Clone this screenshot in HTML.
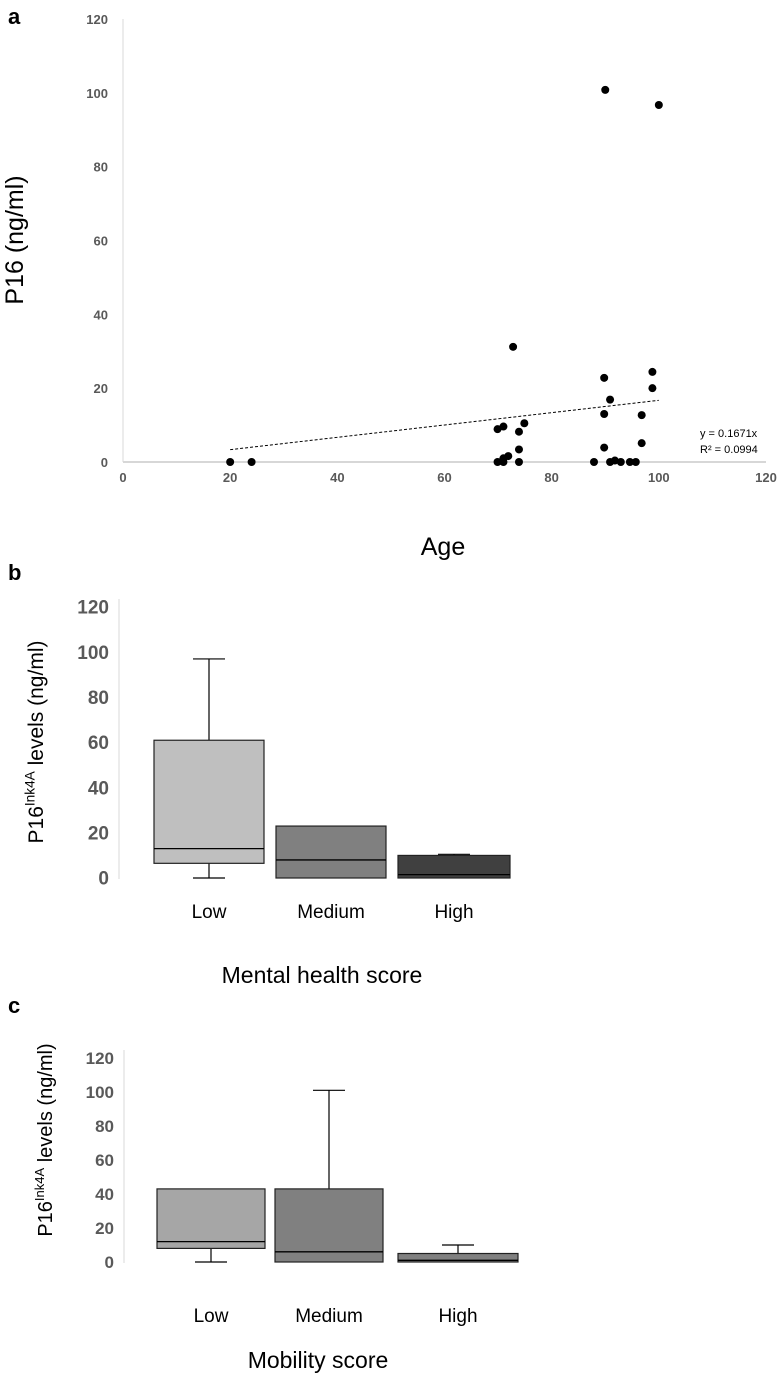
<!DOCTYPE html>
<html><head><meta charset="utf-8"><style>
html,body{margin:0;padding:0;background:#fff;}
svg{display:block;font-family:"Liberation Sans",sans-serif;}
</style></head><body>
<svg id="s" width="780" height="1376" viewBox="0 0 780 1376" xmlns="http://www.w3.org/2000/svg"></svg>
<script>
// Panel a data
const ageValues=[20,24,72.8,69.9,71,73.9,74.9,73.9,71.9,71,69.9,71,73.9,89.8,90.9,89.8,89.8,87.9,90.9,91.8,92.9,94.6,95.7,98.8,98.8,96.8,96.8,90,100];
const p16Values=[0,0,31.2,8.9,9.6,8.2,10.5,3.4,1.6,1.0,0,0,0,22.8,16.9,13,3.9,0,0,0.4,0,0,0,24.4,20.0,12.7,5.1,100.8,96.7];
const aTicks=[0,20,40,60,80,100,120];
const trendSlope=0.1671;
const trendRange=[20,100];
// Panel b data
const bCats=["Low","Medium","High"];
const bMin=[0,0,0];
const bQ1=[6.5,0,0];
const bMed=[13,8,1.5];
const bQ3=[61,23,10];
const bMax=[97,23,10.5];
// Panel c data
const cCats=["Low","Medium","High"];
const cMin=[0,0,0];
const cQ1=[8,0,0];
const cMed=[12,6,1];
const cQ3=[43,43,5];
const cMax=[43,101,10];
const boxTicks=[0,20,40,60,80,100,120];

const NS="http://www.w3.org/2000/svg";
const s=document.getElementById('s');
function el(t,a,p){const e=document.createElementNS(NS,t);for(const k in a)e.setAttribute(k,a[k]);(p||s).appendChild(e);return e;}
function txt(x,y,str,a){const e=el('text',Object.assign({x:x,y:y},a));e.textContent=str;return e;}

// ---------- Panel a ----------
const ax=v=>123+v*(643/120), ay=v=>462-v*(443/120);
let t=txt(8,24,"a",{'font-size':22,'font-weight':'bold'});


let l=el('line',{x1:ax(0),y1:ay(0),x2:ax(120),y2:ay(0),stroke:'#bfbfbf','stroke-width':1.3});


l=el('line',{x1:ax(0),y1:ay(0),x2:ax(0),y2:ay(120),stroke:'#d9d9d9','stroke-width':1});


aTicks.forEach(v=>{
  let a=txt(ax(v),482,String(v),{'font-size':13,'font-weight':'bold',fill:'#595959','text-anchor':'middle'});
  
  
  let b=txt(108,ay(v)+5,String(v),{'font-size':13,'font-weight':'bold',fill:'#595959','text-anchor':'end'});
  
  
});
l=el('line',{x1:ax(trendRange[0]),y1:ay(trendRange[0]*trendSlope),x2:ax(trendRange[1]),y2:ay(trendRange[1]*trendSlope),stroke:'#000','stroke-width':1,'stroke-dasharray':'3,2'});


ageValues.forEach((a,i)=>{
  const c=el('circle',{cx:ax(a),cy:ay(p16Values[i]),r:4,fill:'#000'});
  
  
});
t=txt(700,437,"y = 0.1671x",{'font-size':11});


t=txt(700,453,"R² = 0.0994",{'font-size':11});


t=txt(0,0,"P16 (ng/ml)",{'font-size':25,transform:'translate(23,240) rotate(-90)','text-anchor':'middle'});


t=txt(443,555,"Age",{'font-size':25,'text-anchor':'middle'});



// ---------- Box panels ----------
function boxPanel(o){
  const y=v=>o.y0-v*(o.y0-o.y120)/120;
  let e=el('line',{x1:o.axX,y1:y(0)+1,x2:o.axX,y2:y(120)-8,stroke:'#d9d9d9','stroke-width':1});
  
  
  boxTicks.forEach(v=>{
    const a=txt(o.axX-10,y(v)+o.fs*0.35,String(v),{'font-size':o.fs,'font-weight':'bold',fill:'#595959','text-anchor':'end'});
    
    
  });
  o.cats.forEach((c,i)=>{
    const x1=o.xs[i][0],x2=o.xs[i][1],xm=(x1+x2)/2;
    const g=el('g',{});
    
    
    if(o.max[i]>o.q3[i]){el('line',{x1:xm,y1:y(o.q3[i]),x2:xm,y2:y(o.max[i]),stroke:'#000','stroke-width':1.2},g);
      el('line',{x1:xm-16,y1:y(o.max[i]),x2:xm+16,y2:y(o.max[i]),stroke:'#000','stroke-width':1.2},g);}
    if(o.min[i]<o.q1[i]){el('line',{x1:xm,y1:y(o.q1[i]),x2:xm,y2:y(o.min[i]),stroke:'#000','stroke-width':1.2},g);
      el('line',{x1:xm-16,y1:y(o.min[i]),x2:xm+16,y2:y(o.min[i]),stroke:'#000','stroke-width':1.2},g);}
    el('rect',{x:x1,y:y(o.q3[i]),width:x2-x1,height:y(o.q1[i])-y(o.q3[i]),fill:o.fills[i],stroke:'#222','stroke-width':1.2},g);
    el('line',{x1:x1,y1:y(o.med[i]),x2:x2,y2:y(o.med[i]),stroke:'#000','stroke-width':1.3},g);
    const lb=txt(xm,o.catY,c,{'font-size':19,'text-anchor':'middle'});
    
    
  });
  const yt=el('text',{x:0,y:0,'font-size':o.tfs,transform:'translate('+o.tX+','+o.tY+') rotate(-90)','text-anchor':'middle'});
  
  
  yt.innerHTML='P16<tspan font-size="'+(o.tfs*0.65)+'" dy="-'+(o.tfs*0.4)+'">Ink4A</tspan><tspan dy="'+(o.tfs*0.4)+'"> levels (ng/ml)</tspan>';
  const xt=txt(o.xtX,o.xtY,o.xt,{'font-size':23,'text-anchor':'middle'});
  
  
}
t=txt(8,580,"b",{'font-size':22,'font-weight':'bold'});


boxPanel({p:'b',y0:878,y120:607,axX:119,fs:19,cats:bCats,min:bMin,q1:bQ1,med:bMed,q3:bQ3,max:bMax,
  xs:[[154,264],[276,386],[398,510]],fills:['#bfbfbf','#808080','#404040'],catY:918,
  tX:43,tY:742,tfs:21,xt:"Mental health score",xtX:322,xtY:983});
t=txt(8,1013,"c",{'font-size':22,'font-weight':'bold'});


boxPanel({p:'c',y0:1262,y120:1058,axX:124,fs:17,cats:cCats,min:cMin,q1:cQ1,med:cMed,q3:cQ3,max:cMax,
  xs:[[157,265],[275,383],[398,518]],fills:['#a6a6a6','#808080','#808080'],catY:1322,
  tX:52,tY:1140,tfs:20,xt:"Mobility score",xtX:318,xtY:1368});
</script>
</body></html>
